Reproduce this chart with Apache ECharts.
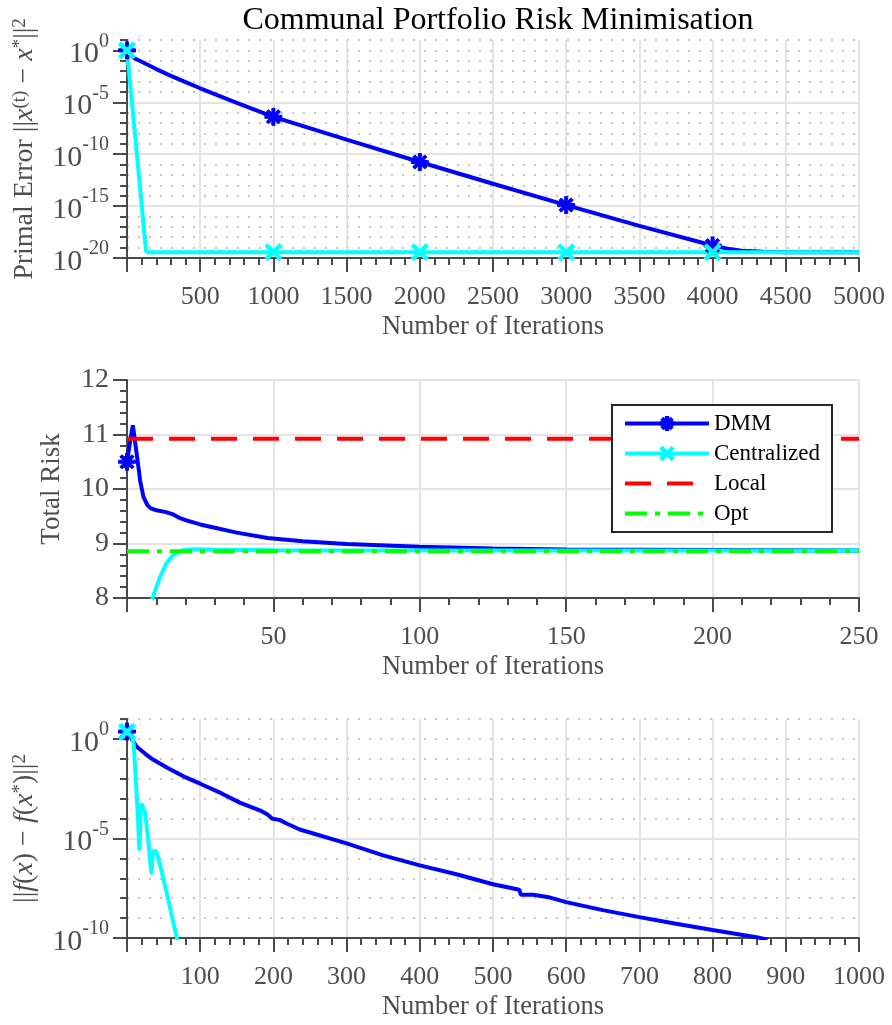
<!DOCTYPE html>
<html><head><meta charset="utf-8">
<script src="https://cdn.jsdelivr.net/npm/echarts@6/dist/echarts.min.js"></script>
<style>html,body{margin:0;padding:0;background:#fff}#c{width:892px;height:1025px}</style>
</head><body><div id="c"></div>
<script>
// ---------- DATA ----------
const seriesNames = ['DMM', 'Centralized', 'Local', 'Opt'];

// Top plot: primal error, stored as log10 values
const topDmmIter = [0, 25, 50, 100, 200, 300, 400, 500, 750, 1000, 1500, 2000, 2500, 3000, 3500, 4000, 4100, 4200, 4350, 4500, 5000];
const topDmmLog = [0, -0.45, -0.75, -1.1, -1.8, -2.45, -3.05, -3.65, -5.05, -6.4, -8.6, -10.75, -12.85, -14.9, -16.9, -18.8, -19.1, -19.3, -19.4, -19.44, -19.44];
const topCenIter = [0, 130, 145, 1000, 2000, 3000, 4000, 5000];
const topCenLog = [0, -19.3, -19.44, -19.44, -19.44, -19.44, -19.44, -19.44];
const topMarkerIters = [0, 1000, 2000, 3000, 4000];
const topXTicks = [0, 5000, 500];      // min, max, step
const topYTicks = [-20, 1, 5];         // log10 min, max, step

// Middle plot: total risk
const midDmmIter = [0, 1, 2, 2.5, 3.3, 4.5, 5.6, 7, 8, 10, 13, 15.5, 17.5, 20, 25, 30, 37.5, 48, 60, 75, 100, 125, 150, 200, 250];
const midDmm = [10.5, 10.85, 11.17, 11.15, 10.65, 10.15, 9.86, 9.7, 9.65, 9.61, 9.58, 9.54, 9.48, 9.43, 9.35, 9.29, 9.2, 9.1, 9.04, 8.99, 8.94, 8.91, 8.89, 8.88, 8.87];
const midCenIter = [8.6, 9.5, 11.3, 13.5, 15.8, 18.7, 22.6, 30, 50, 250];
const midCen = [7.97, 8.12, 8.39, 8.64, 8.79, 8.87, 8.895, 8.885, 8.875, 8.87];
const midLocal = 10.92;
const midOpt = 8.86;
const midMarkerIters = [0];
const midXTicks = [0, 250, 50];
const midYTicks = [8, 12, 1];

// Bottom plot: objective error, stored as log10 values
const botDmmIter = [0, 5, 13, 25, 36, 55, 77, 100, 130, 154, 184, 192, 198, 209, 218, 236, 300, 350, 400, 450, 500, 536, 538, 555, 578, 600, 650, 700, 750, 800, 862, 875];
const botDmmLog = [0.37, 0.1, -0.38, -0.75, -1.05, -1.45, -1.88, -2.25, -2.75, -3.2, -3.63, -3.8, -4.0, -4.08, -4.25, -4.55, -5.25, -5.85, -6.35, -6.8, -7.3, -7.58, -7.83, -7.83, -7.97, -8.2, -8.6, -8.95, -9.28, -9.6, -9.97, -10.08];
const botCenIter = [0, 6, 9, 12, 15, 17, 17.6, 18.5, 20, 21.4, 24.6, 29, 32.3, 33.7, 34.5, 35.5, 37, 40.5, 47, 54, 61, 68, 70];
const botCenLog = [0.35, 0.25, -0.2, -2.0, -4.0, -5.6, -5.0, -3.7, -3.25, -3.2, -3.7, -5.05, -6.4, -6.8, -6.1, -5.75, -5.6, -5.7, -6.6, -7.7, -8.85, -9.97, -10.3];
const botMarkerIters = [0];
const botXTicks = [0, 1000, 100];
const botYTicks = [-10, 1, 5];

const titleText = 'Communal Portfolio Risk Minimisation';
const xName = 'Number of Iterations';

// ---------- STYLE ----------
const F = "'Liberation Serif', 'Times New Roman', serif";
const AX = '#4a4a4a';
const LBL = '#4d4d4d';
const GRIDC = '#e3e3e3';
const DOTC = '#c4c4c4';
const BLUE = '#0000ff', CYAN = '#00ffff', RED = '#ff0000', GREEN = '#00ff00';
const LW = 4;

const ASTER = 'path://M-1.8,-10L1.8,-10L1.8,10L-1.8,10Z M-10,-1.8L10,-1.8L10,1.8L-10,1.8Z M-8.34,-5.8L-5.8,-8.34L8.34,5.8L5.8,8.34Z M-5.8,8.34L-8.34,5.8L5.8,-8.34L8.34,-5.8Z';
const XMARK = 'path://M-8.6,-6.0L-6.0,-8.6L8.6,6.0L6.0,8.6Z M-6.0,8.6L-8.6,6.0L6.0,-8.6L8.6,-6.0Z';

const grids = [
  {left: 127, top: 40, width: 732, height: 218},
  {left: 127, top: 380, width: 732, height: 218},
  {left: 127, top: 719, width: 732, height: 219}
];

function xAxisFor(gi, t) {
  return {
    type: 'value', gridIndex: gi, min: t[0], max: t[1], interval: t[2],
    name: xName, nameLocation: 'middle', nameGap: 56,
    nameTextStyle: {fontFamily: F, fontSize: 26.5, color: LBL},
    axisLine: {show: true, onZero: false, lineStyle: {color: AX, width: 2}},
    axisTick: {show: true, inside: false, length: 14, lineStyle: {color: AX, width: 2}},
    minorTick: {show: true, splitNumber: 5, length: 7, lineStyle: {color: AX, width: 2}},
    axisLabel: {margin: 26, fontFamily: F, fontSize: 26, color: LBL,
      formatter: v => (v === 0 ? '' : String(v))},
    splitLine: {show: true, lineStyle: {color: GRIDC, width: 2}},
    minorSplitLine: {show: false}
  };
}

function logMinorY(gi, t) {
  return {
    type: 'value', gridIndex: gi, min: t[0], max: t[1], interval: 1, position: 'left',
    axisLine: {show: true, onZero: false, lineStyle: {color: AX, width: 2}},
    axisTick: {show: true, inside: false, length: 7, lineStyle: {color: AX, width: 2}},
    axisLabel: {show: false},
    splitLine: {show: true, lineStyle: {color: DOTC, width: 2, type: [2, 9]}}
  };
}

function logMajorY(gi, t, name, gap) {
  const vals = [];
  for (let v = t[0]; v <= 0; v += t[2]) vals.push(v);
  return {
    type: 'value', gridIndex: gi, min: t[0], max: t[1], interval: t[2], position: 'left',
    name: name, nameLocation: 'middle', nameGap: gap, nameRotate: 90,
    nameTextStyle: {rich: {
      t: {fontFamily: F, fontSize: 28, color: LBL},
      i: {fontFamily: F, fontSize: 28, fontStyle: 'italic', color: LBL},
      s: {fontFamily: F, fontSize: 19, color: LBL, verticalAlign: 'top'}
    }},
    axisLine: {show: true, onZero: false, lineStyle: {color: AX, width: 2}},
    axisTick: {show: true, inside: false, length: 14, customValues: vals, lineStyle: {color: AX, width: 2}},
    axisLabel: {margin: 18, customValues: vals,
      formatter: v => (v % t[2] === 0 && v <= 0 ? '{b|10}{s|' + v + '}' : ''),
      rich: {
        b: {fontFamily: F, fontSize: 30, color: LBL, padding: [8, 0, 0, 0]},
        s: {fontFamily: F, fontSize: 20, color: LBL, verticalAlign: 'top'}
      }},
    splitLine: {show: true, showMaxLine: false, lineStyle: {color: GRIDC, width: 2}}
  };
}

function pts(xs, ys, markers) {
  return xs.map((x, i) => markers.includes(x) ? [x, ys[i]] : {value: [x, ys[i]], symbol: 'none'});
}

function lineSeries(name, gi, yi, data, color, symbol, extra) {
  return Object.assign({
    name: name, type: 'line', xAxisIndex: gi, yAxisIndex: yi, data: data,
    symbol: symbol, symbolSize: 17, showSymbol: true, clip: true,
    lineStyle: {color: color, width: LW},
    itemStyle: {color: color, borderColor: color, borderWidth: 1},
    emphasis: {disabled: true}, animation: false
  }, extra || {});
}

const HIDDEN = {color: 'rgba(0,0,0,0)', borderColor: 'rgba(0,0,0,0)', borderWidth: 0};

const option = {
  animation: false,
  backgroundColor: '#fff',
  title: {text: titleText, left: 493, textAlign: 'center', top: 0,
    textStyle: {fontFamily: 'Liberation Serif', fontSize: 32, fontWeight: 'normal', color: '#000'}},
  grid: grids,
  xAxis: [xAxisFor(0, topXTicks), xAxisFor(1, midXTicks), xAxisFor(2, botXTicks)],
  yAxis: [
    logMinorY(0, topYTicks),
    logMajorY(0, topYTicks, '{t|Primal Error ||}{i|x}{s|(t)}{t| − }{i|x}{s|*}{t|||}{s|2}', 88),
    {
      type: 'value', gridIndex: 1, min: midYTicks[0], max: midYTicks[1], interval: midYTicks[2],
      name: 'Total Risk', nameLocation: 'middle', nameGap: 62, nameRotate: 90,
      nameTextStyle: {fontFamily: F, fontSize: 27, color: LBL},
      axisLine: {show: true, onZero: false, lineStyle: {color: AX, width: 2}},
      axisTick: {show: true, inside: false, length: 14, lineStyle: {color: AX, width: 2}},
      minorTick: {show: true, splitNumber: 5, length: 7, lineStyle: {color: AX, width: 2}},
      axisLabel: {margin: 18, fontFamily: F, fontSize: 28, color: LBL},
      splitLine: {show: true, lineStyle: {color: GRIDC, width: 2}}
    },
    logMinorY(2, botYTicks),
    logMajorY(2, botYTicks, '{t|||}{i|f}{t|(}{i|x}{t|) − }{i|f}{t|(}{i|x}{s|*}{t|)||}{s|2}', 88)
  ],
  legend: {
    data: seriesNames, orient: 'vertical', left: 612, top: 405,
    padding: [7, 12, 7, 11], itemGap: 7, itemWidth: 84, itemHeight: 16,
    backgroundColor: '#fff', borderColor: '#262626', borderWidth: 2,
    lineStyle: {width: 4},
    textStyle: {fontFamily: F, fontSize: 23, color: '#000', lineHeight: 23},
    selectedMode: false
  },
  series: [
    lineSeries('DMM', 0, 1, pts(topDmmIter, topDmmLog, topMarkerIters), BLUE, ASTER),
    lineSeries('Centralized', 0, 1, pts(topCenIter, topCenLog, topMarkerIters), CYAN, XMARK),
    lineSeries('DMM', 1, 2, pts(midDmmIter, midDmm, midMarkerIters), BLUE, ASTER),
    lineSeries('Centralized', 1, 2, pts(midCenIter, midCen, midMarkerIters), CYAN, XMARK),
    lineSeries('Local', 1, 2, [[midXTicks[0], midLocal], [midXTicks[1], midLocal]], RED, 'rect',
      {showSymbol: false, itemStyle: HIDDEN, lineStyle: {color: RED, width: LW, type: [26, 16]}}),
    lineSeries('Opt', 1, 2, [[midXTicks[0], midOpt], [midXTicks[1], midOpt]], GREEN, 'rect',
      {showSymbol: false, itemStyle: HIDDEN, lineStyle: {color: GREEN, width: LW, type: [22, 8, 5, 8]}}),
    lineSeries('DMM', 2, 4, pts(botDmmIter, botDmmLog, botMarkerIters), BLUE, ASTER),
    lineSeries('Centralized', 2, 4, pts(botCenIter, botCenLog, botMarkerIters), CYAN, XMARK)
  ]
};

const chart = echarts.init(document.getElementById('c'), null, {renderer: 'canvas'});
chart.setOption(option);
</script></body></html>
